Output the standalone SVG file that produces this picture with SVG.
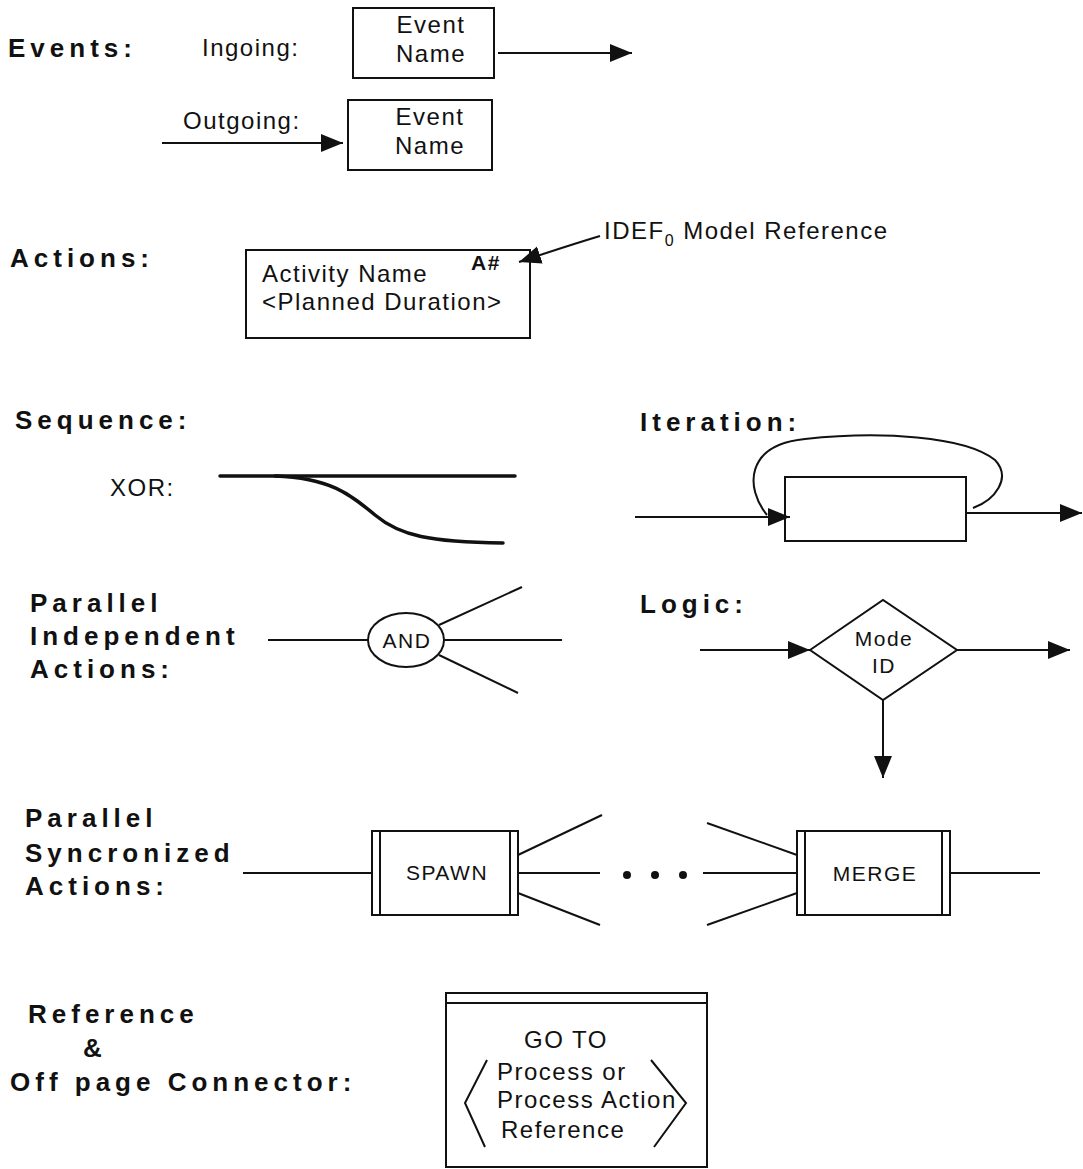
<svg xmlns="http://www.w3.org/2000/svg" width="1083" height="1169" viewBox="0 0 1083 1169">
  <style>
    .head { font-family: "Liberation Sans", Arial, sans-serif; font-weight: bold; font-size: 26px; letter-spacing: 5px; fill: #111; }
    .txt { font-family: "Liberation Sans", Arial, sans-serif; font-size: 24px; letter-spacing: 1.5px; fill: #111; }
    .sm { font-family: "Liberation Sans", Arial, sans-serif; font-size: 21px; letter-spacing: 1.5px; fill: #111; }
    .mid { text-anchor: middle; }
    .box { fill: #fff; stroke: #111; stroke-width: 2; }
    .ln { fill: none; stroke: #111; stroke-width: 2; }
    .thick { fill: none; stroke: #111; stroke-width: 3.5; stroke-linecap: round; }
    .arr { marker-end: url(#head); }
  </style>
  <defs>
    <marker id="head" markerUnits="userSpaceOnUse" markerWidth="24" markerHeight="20" refX="22" refY="9" orient="auto">
      <path d="M0,0 L22,9 L0,18 z" fill="#111"/>
    </marker>
  </defs>
  <rect width="1083" height="1169" fill="#fff"/>

  <!-- section headings -->
  <g id="headings">
    <text class="head" x="8" y="57">Events:</text>
    <text class="head" x="10" y="267">Actions:</text>
    <text class="head" x="15" y="429">Sequence:</text>
    <text class="head" x="640" y="431">Iteration:</text>
    <text class="head" x="30" y="612">Parallel</text>
    <text class="head" x="30" y="645">Independent</text>
    <text class="head" x="30" y="678">Actions:</text>
    <text class="head" x="640" y="613">Logic:</text>
    <text class="head" x="25" y="827">Parallel</text>
    <text class="head" x="25" y="862">Syncronized</text>
    <text class="head" x="25" y="895">Actions:</text>
    <text class="head" x="28" y="1023">Reference</text>
    <text class="head" x="83" y="1057">&amp;</text>
    <text class="head" x="10" y="1091">Off page Connector:</text>
  </g>

  <!-- events -->
  <g id="ingoing-event">
    <text class="txt" x="202" y="56">Ingoing:</text>
    <rect class="box" x="353" y="8" width="141" height="70"/>
    <text class="txt mid" x="431" y="33">Event</text>
    <text class="txt mid" x="431" y="62">Name</text>
  </g>
  <g id="outgoing-event">
    <text class="txt" x="183" y="129">Outgoing:</text>
    <rect class="box" x="348" y="100" width="144" height="70"/>
    <text class="txt mid" x="430" y="125">Event</text>
    <text class="txt mid" x="430" y="154">Name</text>
  </g>

  <!-- action box -->
  <g id="action">
    <rect class="box" x="246" y="250" width="284" height="88"/>
    <text class="txt" x="262" y="282">Activity  Name</text>
    <text class="txt" x="262" y="310">&lt;Planned Duration&gt;</text>
    <text class="sm" x="471" y="270" font-weight="bold">A#</text>
  </g>
  <g id="idef-label">
    <text class="txt" x="604" y="239">IDEF<tspan font-size="16" dy="7">0</tspan><tspan dy="-7"> Model Reference</tspan></text>
  </g>

  <!-- XOR label -->
  <g id="xor-label">
    <text class="txt" x="110" y="496">XOR:</text>
  </g>

  <!-- iteration box -->
  <g id="iteration-box">
    <rect class="box" x="785" y="477" width="181" height="64"/>
  </g>

  <!-- AND node -->
  <g id="and-node">
    <ellipse class="box" cx="406" cy="640" rx="38" ry="27"/>
    <text class="sm mid" x="407" y="648">AND</text>
  </g>

  <!-- logic decision -->
  <g id="mode-id">
    <path class="box" d="M810,650 L883,600 L957,650 L883,700 Z"/>
    <text class="sm mid" x="884" y="646">Mode</text>
    <text class="sm mid" x="884" y="673">ID</text>
  </g>

  <!-- spawn / merge bars -->
  <g id="spawn">
    <rect class="box" x="372" y="831" width="146" height="84"/>
    <line class="ln" x1="380" y1="831" x2="380" y2="915"/>
    <line class="ln" x1="510" y1="831" x2="510" y2="915"/>
    <text class="sm mid" x="447" y="880">SPAWN</text>
  </g>
  <g id="merge">
    <rect class="box" x="797" y="831" width="153" height="84"/>
    <line class="ln" x1="805" y1="831" x2="805" y2="915"/>
    <line class="ln" x1="942" y1="831" x2="942" y2="915"/>
    <text class="sm mid" x="875" y="881">MERGE</text>
  </g>

  <!-- off page connector -->
  <g id="goto">
    <rect class="box" x="446" y="993" width="261" height="174"/>
    <line class="ln" x1="446" y1="1003" x2="707" y2="1003"/>
    <text class="txt mid" x="566" y="1048">GO TO</text>
    <path class="ln" d="M487,1060 L465,1103 L485,1147"/>
    <path class="ln" d="M651,1060 L686,1103 L654,1147"/>
    <text class="txt" x="497" y="1080">Process or</text>
    <text class="txt" x="497" y="1108">Process Action</text>
    <text class="txt" x="501" y="1138">Reference</text>
  </g>

  <!-- connectors -->
  <g id="connectors">
    <line class="ln arr" x1="498" y1="53" x2="632" y2="53"/>
    <line class="ln arr" x1="162" y1="143" x2="343" y2="143"/>
    <path class="ln arr" stroke-width="2.5" d="M600,236 Q570,245 519,262"/>

    <!-- XOR split -->
    <line class="thick" x1="220" y1="476" x2="515" y2="476"/>
    <path class="thick" d="M275,476 C330,478 350,494 375,515 C400,536 430,542 503,543"/>

    <!-- iteration -->
    <line class="ln arr" x1="635" y1="517" x2="790" y2="517"/>
    <path class="ln" d="M767,515 C745,488 745,445 805,439 C880,431 965,436 995,460 C1012,478 995,500 973,508"/>
    <line class="ln arr" x1="966" y1="513" x2="1082" y2="513"/>

    <!-- AND branches -->
    <line class="ln" x1="268" y1="640" x2="368" y2="640"/>
    <line class="ln" x1="444" y1="640" x2="562" y2="640"/>
    <line class="ln" x1="439" y1="625" x2="522" y2="587"/>
    <line class="ln" x1="439" y1="655" x2="518" y2="693"/>

    <!-- logic -->
    <line class="ln arr" x1="700" y1="650" x2="810" y2="650"/>
    <line class="ln arr" x1="957" y1="650" x2="1070" y2="650"/>
    <line class="ln arr" x1="883" y1="700" x2="883" y2="778"/>

    <!-- spawn / merge -->
    <line class="ln" x1="243" y1="873" x2="372" y2="873"/>
    <line class="ln" x1="518" y1="855" x2="602" y2="815"/>
    <line class="ln" x1="518" y1="873" x2="600" y2="873"/>
    <line class="ln" x1="518" y1="893" x2="600" y2="925"/>
    <circle cx="627" cy="875" r="4" fill="#111"/>
    <circle cx="655" cy="875" r="4" fill="#111"/>
    <circle cx="683" cy="875" r="4" fill="#111"/>
    <line class="ln" x1="703" y1="873" x2="797" y2="873"/>
    <line class="ln" x1="707" y1="823" x2="797" y2="855"/>
    <line class="ln" x1="707" y1="925" x2="797" y2="893"/>
    <line class="ln" x1="950" y1="873" x2="1040" y2="873"/>
  </g>
</svg>
